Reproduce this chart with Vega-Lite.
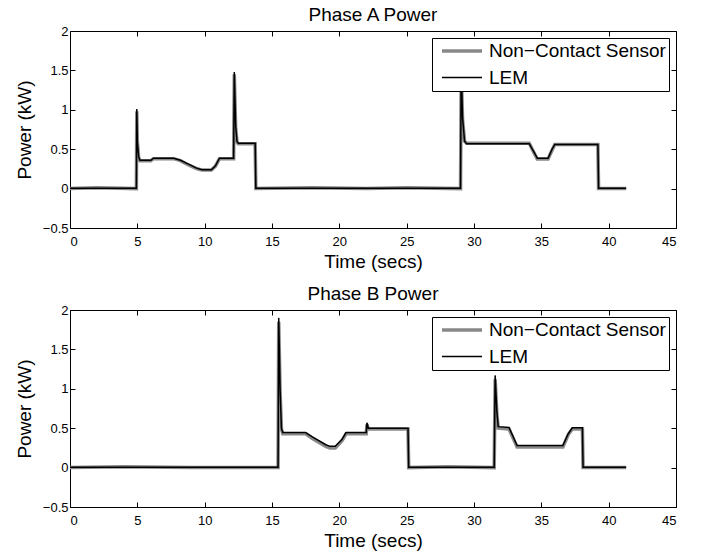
{
  "$schema": "https://vega.github.io/schema/vega-lite/v6.json",
  "background": "white",
  "padding": {"left": 14, "top": 5, "right": 5, "bottom": 5},
  "config": {
    "font": "Liberation Sans",
    "view": {"stroke": "black", "strokeWidth": 1},
    "axis": {"domain": false, "grid": false, "tickColor": "black", "tickSize": -5, "labelColor": "black", "labelFontSize": 13, "titleFontSize": 19, "titleFontWeight": "normal", "titleColor": "black", "labelFont": "Liberation Sans", "titleFont": "Liberation Sans"},
    "title": {"fontSize": 19, "fontWeight": "normal", "color": "black", "font": "Liberation Sans"},
    "legend": {"labelFontSize": 19, "labelColor": "black", "labelFont": "Liberation Sans", "symbolType": "M-1,0H4", "symbolSize": 256, "symbolOffset": 5, "strokeColor": "black", "fillColor": "white", "padding": 3, "rowPadding": 7, "labelOffset": 29, "cornerRadius": 0, "labelLimit": 400, "offset": 7}
  },
  "datasets": {
    "a": [
      {"t": 0, "p": 0.0, "s": "Non−Contact Sensor"}, {"t": 2, "p": 0.01, "s": "Non−Contact Sensor"}, {"t": 4.93, "p": 0.0, "s": "Non−Contact Sensor"}, {"t": 4.96, "p": 0.98, "s": "Non−Contact Sensor"}, {"t": 5.0, "p": 0.6, "s": "Non−Contact Sensor"}, {"t": 5.1, "p": 0.39, "s": "Non−Contact Sensor"}, {"t": 5.2, "p": 0.355, "s": "Non−Contact Sensor"}, {"t": 6.0, "p": 0.355, "s": "Non−Contact Sensor"}, {"t": 6.2, "p": 0.38, "s": "Non−Contact Sensor"}, {"t": 7.7, "p": 0.38, "s": "Non−Contact Sensor"}, {"t": 8.2, "p": 0.355, "s": "Non−Contact Sensor"}, {"t": 8.8, "p": 0.3, "s": "Non−Contact Sensor"}, {"t": 9.4, "p": 0.255, "s": "Non−Contact Sensor"}, {"t": 9.8, "p": 0.235, "s": "Non−Contact Sensor"}, {"t": 10.5, "p": 0.235, "s": "Non−Contact Sensor"}, {"t": 10.8, "p": 0.285, "s": "Non−Contact Sensor"}, {"t": 11.1, "p": 0.38, "s": "Non−Contact Sensor"}, {"t": 12.15, "p": 0.38, "s": "Non−Contact Sensor"}, {"t": 12.2, "p": 1.45, "s": "Non−Contact Sensor"}, {"t": 12.3, "p": 0.78, "s": "Non−Contact Sensor"}, {"t": 12.4, "p": 0.59, "s": "Non−Contact Sensor"}, {"t": 12.5, "p": 0.57, "s": "Non−Contact Sensor"}, {"t": 13.75, "p": 0.57, "s": "Non−Contact Sensor"}, {"t": 13.8, "p": 0.0, "s": "Non−Contact Sensor"}, {"t": 18, "p": 0.01, "s": "Non−Contact Sensor"}, {"t": 22, "p": 0.0, "s": "Non−Contact Sensor"}, {"t": 25, "p": 0.01, "s": "Non−Contact Sensor"}, {"t": 29.0, "p": 0.0, "s": "Non−Contact Sensor"}, {"t": 29.05, "p": 1.5, "s": "Non−Contact Sensor"}, {"t": 29.15, "p": 0.88, "s": "Non−Contact Sensor"}, {"t": 29.3, "p": 0.6, "s": "Non−Contact Sensor"}, {"t": 29.45, "p": 0.575, "s": "Non−Contact Sensor"}, {"t": 34.1, "p": 0.575, "s": "Non−Contact Sensor"}, {"t": 34.5, "p": 0.44, "s": "Non−Contact Sensor"}, {"t": 34.7, "p": 0.375, "s": "Non−Contact Sensor"}, {"t": 35.5, "p": 0.375, "s": "Non−Contact Sensor"}, {"t": 35.8, "p": 0.49, "s": "Non−Contact Sensor"}, {"t": 36.0, "p": 0.56, "s": "Non−Contact Sensor"}, {"t": 39.2, "p": 0.56, "s": "Non−Contact Sensor"}, {"t": 39.25, "p": 0.0, "s": "Non−Contact Sensor"}, {"t": 41.3, "p": 0.0, "s": "Non−Contact Sensor"},
      {"t": 0, "p": 0.005, "s": "LEM"}, {"t": 4.93, "p": 0.005, "s": "LEM"}, {"t": 4.96, "p": 1.01, "s": "LEM"}, {"t": 5.0, "p": 0.6, "s": "LEM"}, {"t": 5.1, "p": 0.4, "s": "LEM"}, {"t": 5.2, "p": 0.36, "s": "LEM"}, {"t": 6.0, "p": 0.36, "s": "LEM"}, {"t": 6.2, "p": 0.385, "s": "LEM"}, {"t": 7.7, "p": 0.385, "s": "LEM"}, {"t": 8.2, "p": 0.36, "s": "LEM"}, {"t": 8.8, "p": 0.31, "s": "LEM"}, {"t": 9.4, "p": 0.26, "s": "LEM"}, {"t": 9.8, "p": 0.24, "s": "LEM"}, {"t": 10.5, "p": 0.24, "s": "LEM"}, {"t": 10.8, "p": 0.29, "s": "LEM"}, {"t": 11.1, "p": 0.385, "s": "LEM"}, {"t": 12.15, "p": 0.385, "s": "LEM"}, {"t": 12.2, "p": 1.48, "s": "LEM"}, {"t": 12.3, "p": 0.8, "s": "LEM"}, {"t": 12.4, "p": 0.6, "s": "LEM"}, {"t": 12.5, "p": 0.575, "s": "LEM"}, {"t": 13.75, "p": 0.575, "s": "LEM"}, {"t": 13.8, "p": 0.005, "s": "LEM"}, {"t": 29.0, "p": 0.005, "s": "LEM"}, {"t": 29.05, "p": 1.55, "s": "LEM"}, {"t": 29.15, "p": 0.9, "s": "LEM"}, {"t": 29.3, "p": 0.6, "s": "LEM"}, {"t": 29.45, "p": 0.57, "s": "LEM"}, {"t": 34.1, "p": 0.57, "s": "LEM"}, {"t": 34.5, "p": 0.45, "s": "LEM"}, {"t": 34.7, "p": 0.385, "s": "LEM"}, {"t": 35.5, "p": 0.385, "s": "LEM"}, {"t": 35.8, "p": 0.5, "s": "LEM"}, {"t": 36.0, "p": 0.56, "s": "LEM"}, {"t": 39.2, "p": 0.56, "s": "LEM"}, {"t": 39.25, "p": 0.005, "s": "LEM"}, {"t": 41.3, "p": 0.005, "s": "LEM"}
    ],
    "b": [
      {"t": 0, "p": 0.0, "s": "Non−Contact Sensor"}, {"t": 4, "p": 0.01, "s": "Non−Contact Sensor"}, {"t": 9, "p": 0.0, "s": "Non−Contact Sensor"}, {"t": 15.45, "p": 0.0, "s": "Non−Contact Sensor"}, {"t": 15.5, "p": 1.85, "s": "Non−Contact Sensor"}, {"t": 15.6, "p": 0.98, "s": "Non−Contact Sensor"}, {"t": 15.7, "p": 0.49, "s": "Non−Contact Sensor"}, {"t": 15.8, "p": 0.43, "s": "Non−Contact Sensor"}, {"t": 17.5, "p": 0.43, "s": "Non−Contact Sensor"}, {"t": 18.0, "p": 0.37, "s": "Non−Contact Sensor"}, {"t": 19.0, "p": 0.27, "s": "Non−Contact Sensor"}, {"t": 19.3, "p": 0.25, "s": "Non−Contact Sensor"}, {"t": 19.7, "p": 0.25, "s": "Non−Contact Sensor"}, {"t": 20.2, "p": 0.34, "s": "Non−Contact Sensor"}, {"t": 20.5, "p": 0.43, "s": "Non−Contact Sensor"}, {"t": 22.0, "p": 0.43, "s": "Non−Contact Sensor"}, {"t": 22.05, "p": 0.55, "s": "Non−Contact Sensor"}, {"t": 22.15, "p": 0.49, "s": "Non−Contact Sensor"}, {"t": 25.1, "p": 0.49, "s": "Non−Contact Sensor"}, {"t": 25.15, "p": 0.0, "s": "Non−Contact Sensor"}, {"t": 28, "p": 0.01, "s": "Non−Contact Sensor"}, {"t": 31.5, "p": 0.0, "s": "Non−Contact Sensor"}, {"t": 31.57, "p": 1.12, "s": "Non−Contact Sensor"}, {"t": 31.7, "p": 0.68, "s": "Non−Contact Sensor"}, {"t": 31.8, "p": 0.5, "s": "Non−Contact Sensor"}, {"t": 32.6, "p": 0.49, "s": "Non−Contact Sensor"}, {"t": 33.2, "p": 0.26, "s": "Non−Contact Sensor"}, {"t": 36.6, "p": 0.26, "s": "Non−Contact Sensor"}, {"t": 37.0, "p": 0.42, "s": "Non−Contact Sensor"}, {"t": 37.3, "p": 0.49, "s": "Non−Contact Sensor"}, {"t": 38.05, "p": 0.49, "s": "Non−Contact Sensor"}, {"t": 38.1, "p": 0.0, "s": "Non−Contact Sensor"}, {"t": 41.3, "p": 0.0, "s": "Non−Contact Sensor"},
      {"t": 0, "p": 0.005, "s": "LEM"}, {"t": 15.45, "p": 0.005, "s": "LEM"}, {"t": 15.5, "p": 1.9, "s": "LEM"}, {"t": 15.6, "p": 1.0, "s": "LEM"}, {"t": 15.7, "p": 0.5, "s": "LEM"}, {"t": 15.8, "p": 0.445, "s": "LEM"}, {"t": 17.5, "p": 0.445, "s": "LEM"}, {"t": 18.0, "p": 0.39, "s": "LEM"}, {"t": 19.0, "p": 0.29, "s": "LEM"}, {"t": 19.3, "p": 0.27, "s": "LEM"}, {"t": 19.7, "p": 0.27, "s": "LEM"}, {"t": 20.2, "p": 0.36, "s": "LEM"}, {"t": 20.5, "p": 0.445, "s": "LEM"}, {"t": 22.0, "p": 0.445, "s": "LEM"}, {"t": 22.05, "p": 0.57, "s": "LEM"}, {"t": 22.15, "p": 0.5, "s": "LEM"}, {"t": 25.1, "p": 0.5, "s": "LEM"}, {"t": 25.15, "p": 0.005, "s": "LEM"}, {"t": 31.5, "p": 0.005, "s": "LEM"}, {"t": 31.57, "p": 1.17, "s": "LEM"}, {"t": 31.7, "p": 0.7, "s": "LEM"}, {"t": 31.8, "p": 0.52, "s": "LEM"}, {"t": 32.6, "p": 0.51, "s": "LEM"}, {"t": 33.2, "p": 0.28, "s": "LEM"}, {"t": 36.6, "p": 0.28, "s": "LEM"}, {"t": 37.0, "p": 0.43, "s": "LEM"}, {"t": 37.3, "p": 0.505, "s": "LEM"}, {"t": 38.05, "p": 0.505, "s": "LEM"}, {"t": 38.1, "p": 0.005, "s": "LEM"}, {"t": 41.3, "p": 0.005, "s": "LEM"}
    ]
  },
  "resolve": {"scale": {"color": "independent", "strokeWidth": "independent"}, "legend": {"color": "independent", "strokeWidth": "independent"}},
  "spacing": 12,
  "vconcat": [
    {
      "title": {"text": "Phase A Power", "offset": 0},
      "width": 606, "height": 197,
      "data": {"name": "a"},
      "resolve": {"axis": {"x": "independent", "y": "independent"}},
      "layer": [
        {
          "transform": [{"filter": "datum.s === 'Non−Contact Sensor'"}],
          "mark": {"type": "line", "clip": true},
          "encoding": {
            "x": {"field": "t", "type": "quantitative", "scale": {"domain": [0, 45], "nice": false}, "axis": {"orient": "bottom", "values": [0,5,10,15,20,25,30,35,40,45], "title": "Time (secs)", "labelPadding": 12, "titlePadding": 4}},
            "y": {"field": "p", "type": "quantitative", "scale": {"domain": [-0.5, 2], "nice": false, "zero": false}, "axis": {"orient": "left", "values": [-0.5,0,0.5,1,1.5,2], "format": "~g", "title": "Power (kW)", "labelPadding": 7, "titlePadding": 8}},
            "color": {"field": "s", "type": "nominal", "scale": {"domain": ["Non−Contact Sensor", "LEM"], "range": ["#888888", "#000000"]}, "legend": {"orient": "top-right", "title": null}},
            "strokeWidth": {"field": "s", "type": "nominal", "scale": {"domain": ["Non−Contact Sensor", "LEM"], "range": [3.5, 1.5]}, "legend": {"orient": "top-right", "title": null}}
          }
        },
        {
          "transform": [{"filter": "datum.s === 'LEM'"}],
          "mark": {"type": "line", "clip": true},
          "encoding": {
            "x": {"field": "t", "type": "quantitative", "axis": {"orient": "top", "values": [0,5,10,15,20,25,30,35,40,45], "labels": false, "title": null}},
            "y": {"field": "p", "type": "quantitative", "axis": {"orient": "right", "values": [-0.5,0,0.5,1,1.5,2], "labels": false, "title": null}},
            "color": {"field": "s", "type": "nominal"},
            "strokeWidth": {"field": "s", "type": "nominal"}
          }
        }
      ]
    },
    {
      "title": {"text": "Phase B Power", "offset": 0},
      "width": 606, "height": 197,
      "data": {"name": "b"},
      "resolve": {"axis": {"x": "independent", "y": "independent"}},
      "layer": [
        {
          "transform": [{"filter": "datum.s === 'Non−Contact Sensor'"}],
          "mark": {"type": "line", "clip": true},
          "encoding": {
            "x": {"field": "t", "type": "quantitative", "scale": {"domain": [0, 45], "nice": false}, "axis": {"orient": "bottom", "values": [0,5,10,15,20,25,30,35,40,45], "title": "Time (secs)", "labelPadding": 12, "titlePadding": 4}},
            "y": {"field": "p", "type": "quantitative", "scale": {"domain": [-0.5, 2], "nice": false, "zero": false}, "axis": {"orient": "left", "values": [-0.5,0,0.5,1,1.5,2], "format": "~g", "title": "Power (kW)", "labelPadding": 7, "titlePadding": 8}},
            "color": {"field": "s", "type": "nominal", "scale": {"domain": ["Non−Contact Sensor", "LEM"], "range": ["#888888", "#000000"]}, "legend": {"orient": "top-right", "title": null}},
            "strokeWidth": {"field": "s", "type": "nominal", "scale": {"domain": ["Non−Contact Sensor", "LEM"], "range": [3.5, 1.5]}, "legend": {"orient": "top-right", "title": null}}
          }
        },
        {
          "transform": [{"filter": "datum.s === 'LEM'"}],
          "mark": {"type": "line", "clip": true},
          "encoding": {
            "x": {"field": "t", "type": "quantitative", "axis": {"orient": "top", "values": [0,5,10,15,20,25,30,35,40,45], "labels": false, "title": null}},
            "y": {"field": "p", "type": "quantitative", "axis": {"orient": "right", "values": [-0.5,0,0.5,1,1.5,2], "labels": false, "title": null}},
            "color": {"field": "s", "type": "nominal"},
            "strokeWidth": {"field": "s", "type": "nominal"}
          }
        }
      ]
    }
  ]
}
